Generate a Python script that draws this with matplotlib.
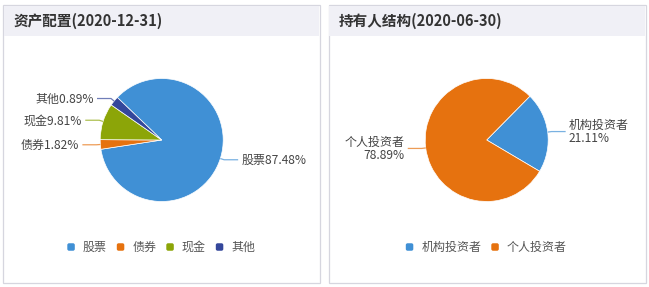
import matplotlib
matplotlib.use("Agg")
import matplotlib.pyplot as plt
from matplotlib.patches import Rectangle, FancyBboxPatch
import numpy as np

plt.rcParams['font.family'] = ['Noto Sans CJK SC', 'DejaVu Sans']

W, H = 649, 287

# ---- data ----
asset_title = "资产配置(2020-12-31)"
asset_names = ["股票", "债券", "现金", "其他"]
asset_pct = [87.48, 1.82, 9.81, 0.89]
asset_colors = ["#4090d5", "#e6720f", "#8ca508", "#34479b"]

holder_title = "持有人结构(2020-06-30)"
holder_names = ["机构投资者", "个人投资者"]
holder_pct = [21.11, 78.89]
holder_colors = ["#4090d5", "#e6720f"]

MIN_ANGLE = 9.0  # smallest angle a slice is shown with (degrees)


def display_weights(values, min_angle):
    """Slice angles with tiny slices widened to min_angle, the rest rescaled."""
    total = sum(values)
    ang = [v / total * 360 for v in values]
    small = [a < min_angle for a in ang]
    rest = 360 - min_angle * sum(small)
    big_sum = sum(v for v, s in zip(values, small) if not s)
    return [min_angle if s else v / big_sum * rest for v, s in zip(values, small)]


fig = plt.figure(figsize=(W / 100, H / 100), dpi=100)
fig.patch.set_facecolor("white")

bg = fig.add_axes([0, 0, 1, 1], zorder=0)
bg.set_xlim(0, W)
bg.set_ylim(H, 0)
bg.axis("off")

fg = fig.add_axes([0, 0, 1, 1], zorder=5)
fg.set_xlim(0, W)
fg.set_ylim(H, 0)
fg.axis("off")
fg.patch.set_alpha(0)

PANEL_TOP, PANEL_BOTTOM, HEADER_BOTTOM = 5, 282.5, 36


def draw_panel(x0, x1, title):
    bg.add_patch(Rectangle((x0, PANEL_TOP), x1 - x0, PANEL_BOTTOM - PANEL_TOP,
                           facecolor="white", edgecolor="#d6d6df", lw=0.9))
    bg.add_patch(Rectangle((x0 + 0.5, PANEL_TOP + 0.5), x1 - x0 - 1,
                           HEADER_BOTTOM - PANEL_TOP - 0.5,
                           facecolor="#f0f0f6", edgecolor="none"))
    bg.text(x0 + 10, 20.5, title, fontsize=10.5, fontweight="bold",
            color="#333333", ha="left", va="center")


def draw_pie(cx, cy, r, values, names, colors, start, label_fmt):
    ax = fig.add_axes([(cx - r) / W, (H - cy - r) / H, 2 * r / W, 2 * r / H], zorder=2)
    wedges, _ = ax.pie(display_weights(values, MIN_ANGLE), colors=colors,
                       startangle=start, counterclock=False, radius=1,
                       wedgeprops=dict(edgecolor="white", linewidth=0.5))
    ax.set_xlim(-1, 1)
    ax.set_ylim(-1, 1)
    ax.axis("off")

    to_fg = fg.transData.inverted()
    for w, name, val, col in zip(wedges, names, values, colors):
        m = np.deg2rad((w.theta1 + w.theta2) / 2)
        p0 = to_fg.transform(ax.transData.transform((np.cos(m), np.sin(m))))
        d = np.array([np.cos(m), -np.sin(m)])
        p1 = p0 + 4 * d
        side = 1 if np.cos(m) >= 0 else -1
        p2 = np.array([p1[0] + side * 14, p1[1]])
        fg.plot([p0[0], p1[0], p2[0]], [p0[1], p1[1], p2[1]],
                color=col, alpha=0.7, lw=0.9, solid_capstyle="butt")
        fg.text(p2[0] + side * 3, p2[1] + 0.5, label_fmt.format(name=name, val=val),
                fontsize=8.64, color="#444444",
                ha="left" if side > 0 else "right", va="center",
                multialignment="left" if side > 0 else "right",
                linespacing=0.95)


def draw_legend(cx, cy, names, colors):
    renderer = fig.canvas.get_renderer()
    msize, gap, item_gap = 7.5, 8.0, 10.0
    texts = []
    widths = []
    for n in names:
        t = fg.text(0, cy, n, fontsize=8.64, color="#555555", ha="left", va="center")
        texts.append(t)
        widths.append(t.get_window_extent(renderer).width)
    total = sum(msize + gap + w for w in widths) + item_gap * (len(names) - 1)
    x = cx - total / 2
    for t, w, col in zip(texts, widths, colors):
        fg.add_patch(FancyBboxPatch((x, cy - msize / 2 - 0.5), msize, msize,
                                    boxstyle="round,pad=0,rounding_size=1.8",
                                    facecolor=col, edgecolor="none"))
        t.set_x(x + msize + gap)
        x += msize + gap + w + item_gap


# left panel: asset allocation
draw_panel(3, 319.5, asset_title)
draw_pie(161.7, 140, 61.5, asset_pct, asset_names, asset_colors, 136.2,
         "{name}{val:.2f}%")
draw_legend(161.3, 247.5, asset_names, asset_colors)

# right panel: holder structure
draw_panel(328.5, 645.5, holder_title)
draw_pie(486.7, 140, 61.5, holder_pct, holder_names, holder_colors, 45.4,
         "{name}\n{val:.2f}%")
draw_legend(486.3, 247.5, holder_names, holder_colors)

fig.savefig("out.png", dpi=100, facecolor="white")
